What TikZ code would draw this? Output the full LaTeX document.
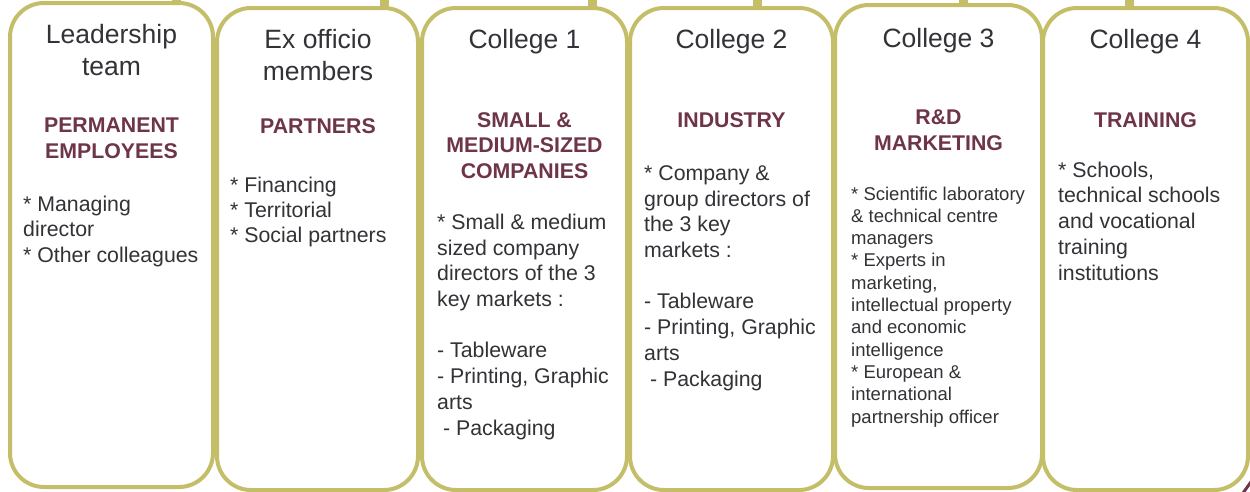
\documentclass[tikz,border=0pt]{standalone}
\usepackage{fontspec}
\setmainfont{Liberation Sans}
\usetikzlibrary{calc,positioning}
\definecolor{boxline}{RGB}{197,190,105}
\definecolor{headred}{RGB}{110,52,72}
\definecolor{txtgray}{RGB}{50,50,55}

\begin{document}
\begin{tikzpicture}[x=1pt,y=-1pt]
			\tikzstyle{box}=[draw=boxline, line width=4pt, rounded corners=34pt, fill=white, inner sep=0pt, minimum height=482pt]
			\tikzstyle{stub}=[draw=boxline, line width=9pt]
			\tikzstyle{title}=[text=txtgray, font=\fontsize{26.5}{32}\selectfont, align=center, anchor=base, inner sep=0pt]
			\tikzstyle{head}=[text=headred, font=\fontsize{21.3}{25.5}\selectfont\bfseries, align=center, anchor=base, inner sep=0pt]
			\tikzstyle{body}=[text=txtgray, font=\fontsize{21.3}{25.7}\selectfont, align=left, anchor=base west, inner sep=0pt]
			\tikzstyle{small}=[body, font=\fontsize{18.5}{22.3}\selectfont]
			\useasboundingbox (0,0) rectangle (1250,491);
			%Stubs on top
			\foreach \sx in {176,384,592,757,963,1129}
				\draw[stub] (\sx,0) -- (\sx,10);
			%Boxes
			\node[box, minimum width=203pt, minimum height=484pt](lead) at (111.5,245){};
			\node[box, minimum width=201pt](exo) at (317.5,249){};
			\node[box, minimum width=205pt](col1) at (524.5,249){};
			\node[box, minimum width=203pt](col2) at (731.5,249){};
			\node[box, minimum width=207pt, minimum height=483pt](col3) at (938.5,246.5){};
			\node[box, minimum width=205pt](col4) at (1145.5,249){};
			%Leadership team (base = last line)
			\node[title](leadT) at (111.5,75){Leadership\\team};
			\node[head](leadH) at (111.5,158){PERMANENT\\EMPLOYEES};
			\node[body, font=\fontsize{21.3}{25.5}\selectfont](leadB) at (23,262){* Managing\\director\\* Other colleagues};
			%Ex officio members
			\node[title](exoT) at (318,80){Ex officio\\members};
			\node[head](exoH) at (318,133){PARTNERS};
			\node[body, font=\fontsize{21.3}{25}\selectfont](exoB) at (230,242){* Financing\\* Territorial\\* Social partners};
			%College 1
			\node[title](col1T) at (524.5,48){College 1};
			\node[head](col1H) at (524.5,178){SMALL \&\\MEDIUM-SIZED\\COMPANIES};
			\node[body](col1B) at (437,435){* Small \& medium\\sized company\\directors of the 3\\key markets :\\[25.7pt]- Tableware\\- Printing, Graphic\\arts\\\ - Packaging};
			%College 2
			\node[title](col2T) at (731.5,48){College 2};
			\node[head](col2H) at (731.5,127){INDUSTRY};
			\node[body](col2B) at (644,386){* Company \&\\group directors of\\the 3 key\\markets :\\[25.7pt]- Tableware\\- Printing, Graphic\\arts\\\ - Packaging};
			%College 3
			\node[title](col3T) at (938.5,47){College 3};
			\node[head](col3H) at (938.5,150){R\&D\\MARKETING};
			\node[small](col3B) at (851,423){* Scientific laboratory\\\& technical centre\\managers\\* Experts in\\marketing,\\intellectual property\\and economic\\intelligence\\* European \&\\international\\partnership officer};
			%College 4
			\node[title](col4T) at (1145.5,48){College 4};
			\node[head](col4H) at (1145.5,127){TRAINING};
			\node[body](col4B) at (1058,280){* Schools,\\technical schools\\and vocational\\training\\institutions};
			%Corner scrap
			\draw[headred, line width=3pt](1243,493)--(1253,479);
\end{tikzpicture}
\end{document}
